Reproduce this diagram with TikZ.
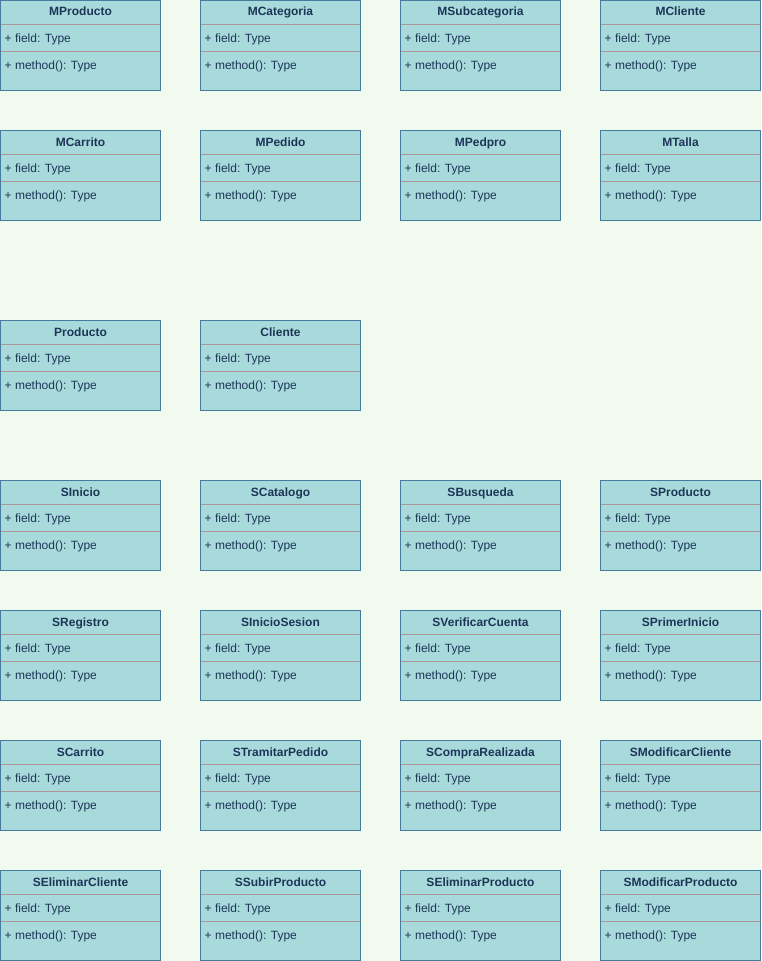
\documentclass[tikz,border=0pt]{standalone}
\usepackage{fontspec}
\setmainfont{Liberation Sans}
\definecolor{pagebg}{HTML}{F1FAEE}
\definecolor{classfill}{HTML}{A8DADC}
\definecolor{classline}{HTML}{457B9D}
\definecolor{sepline}{HTML}{AE9696}
\definecolor{classtext}{HTML}{1D3557}
\tikzset{
  classbox/.style={fill=classfill,
    minimum width=160pt, minimum height=90pt, inner sep=0pt, outer sep=0pt,
    anchor=north west},
  classframe/.style={draw=classline, line width=0.8pt,
    minimum width=160pt, minimum height=90pt, inner sep=0pt, outer sep=0pt,
    anchor=north west},
  classtitle/.style={text=classtext, font=\fontsize{12pt}{14pt}\selectfont\bfseries,
    inner sep=0pt, anchor=base},
  classmember/.style={text=classtext, font=\fontsize{12pt}{14pt}\selectfont,
    inner sep=0pt, anchor=base west},
  separator/.style={draw=sepline, line width=0.8pt}
}
% \umlclass{id}{x}{y}{title}: one class box with a field and a method row
\newcommand{\umlclass}[4]{%
  \node[classbox] (#1) at (#2,#3) {};
  \draw[separator] ([yshift=-24pt]#1.north west) -- ([yshift=-24pt]#1.north east);
  \draw[separator] ([yshift=-51pt]#1.north west) -- ([yshift=-51pt]#1.north east);
  \node[classframe] (#1-frame) at (#2,#3) {};
  \node[classtitle] (#1-title) at ([yshift=-15.5pt]#1.north) {#4};
  \node[classmember] (#1-field) at ([xshift=4pt,yshift=-42pt]#1.north west) {+ field: Type};
  \node[classmember] (#1-method) at ([xshift=4pt,yshift=-69pt]#1.north west) {+ method(): Type};
}
\begin{document}
\begin{tikzpicture}[x=1pt,y=-1pt]
  \fill[pagebg] (0,0) rectangle (761,961);
  \useasboundingbox (0,0) rectangle (761,961);
  % model classes
  \umlclass{mproducto}{0.5}{0.5}{MProducto}
  \umlclass{mcategoria}{200.5}{0.5}{MCategoria}
  \umlclass{msubcategoria}{400.5}{0.5}{MSubcategoria}
  \umlclass{mcliente}{600.5}{0.5}{MCliente}
  \umlclass{mcarrito}{0.5}{130.5}{MCarrito}
  \umlclass{mpedido}{200.5}{130.5}{MPedido}
  \umlclass{mpedpro}{400.5}{130.5}{MPedpro}
  \umlclass{mtalla}{600.5}{130.5}{MTalla}
  % entity classes
  \umlclass{producto}{0.5}{320.5}{Producto}
  \umlclass{cliente}{200.5}{320.5}{Cliente}
  % screen classes
  \umlclass{sinicio}{0.5}{480.5}{SInicio}
  \umlclass{scatalogo}{200.5}{480.5}{SCatalogo}
  \umlclass{sbusqueda}{400.5}{480.5}{SBusqueda}
  \umlclass{sproducto}{600.5}{480.5}{SProducto}
  \umlclass{sregistro}{0.5}{610.5}{SRegistro}
  \umlclass{siniciosesion}{200.5}{610.5}{SInicioSesion}
  \umlclass{sverificarcuenta}{400.5}{610.5}{SVerificarCuenta}
  \umlclass{sprimerinicio}{600.5}{610.5}{SPrimerInicio}
  \umlclass{scarrito}{0.5}{740.5}{SCarrito}
  \umlclass{stramitarpedido}{200.5}{740.5}{STramitarPedido}
  \umlclass{scomprarealizada}{400.5}{740.5}{SCompraRealizada}
  \umlclass{smodificarcliente}{600.5}{740.5}{SModificarCliente}
  \umlclass{seliminarcliente}{0.5}{870.5}{SEliminarCliente}
  \umlclass{ssubirproducto}{200.5}{870.5}{SSubirProducto}
  \umlclass{seliminarproducto}{400.5}{870.5}{SEliminarProducto}
  \umlclass{smodificarproducto}{600.5}{870.5}{SModificarProducto}
\end{tikzpicture}
\end{document}
